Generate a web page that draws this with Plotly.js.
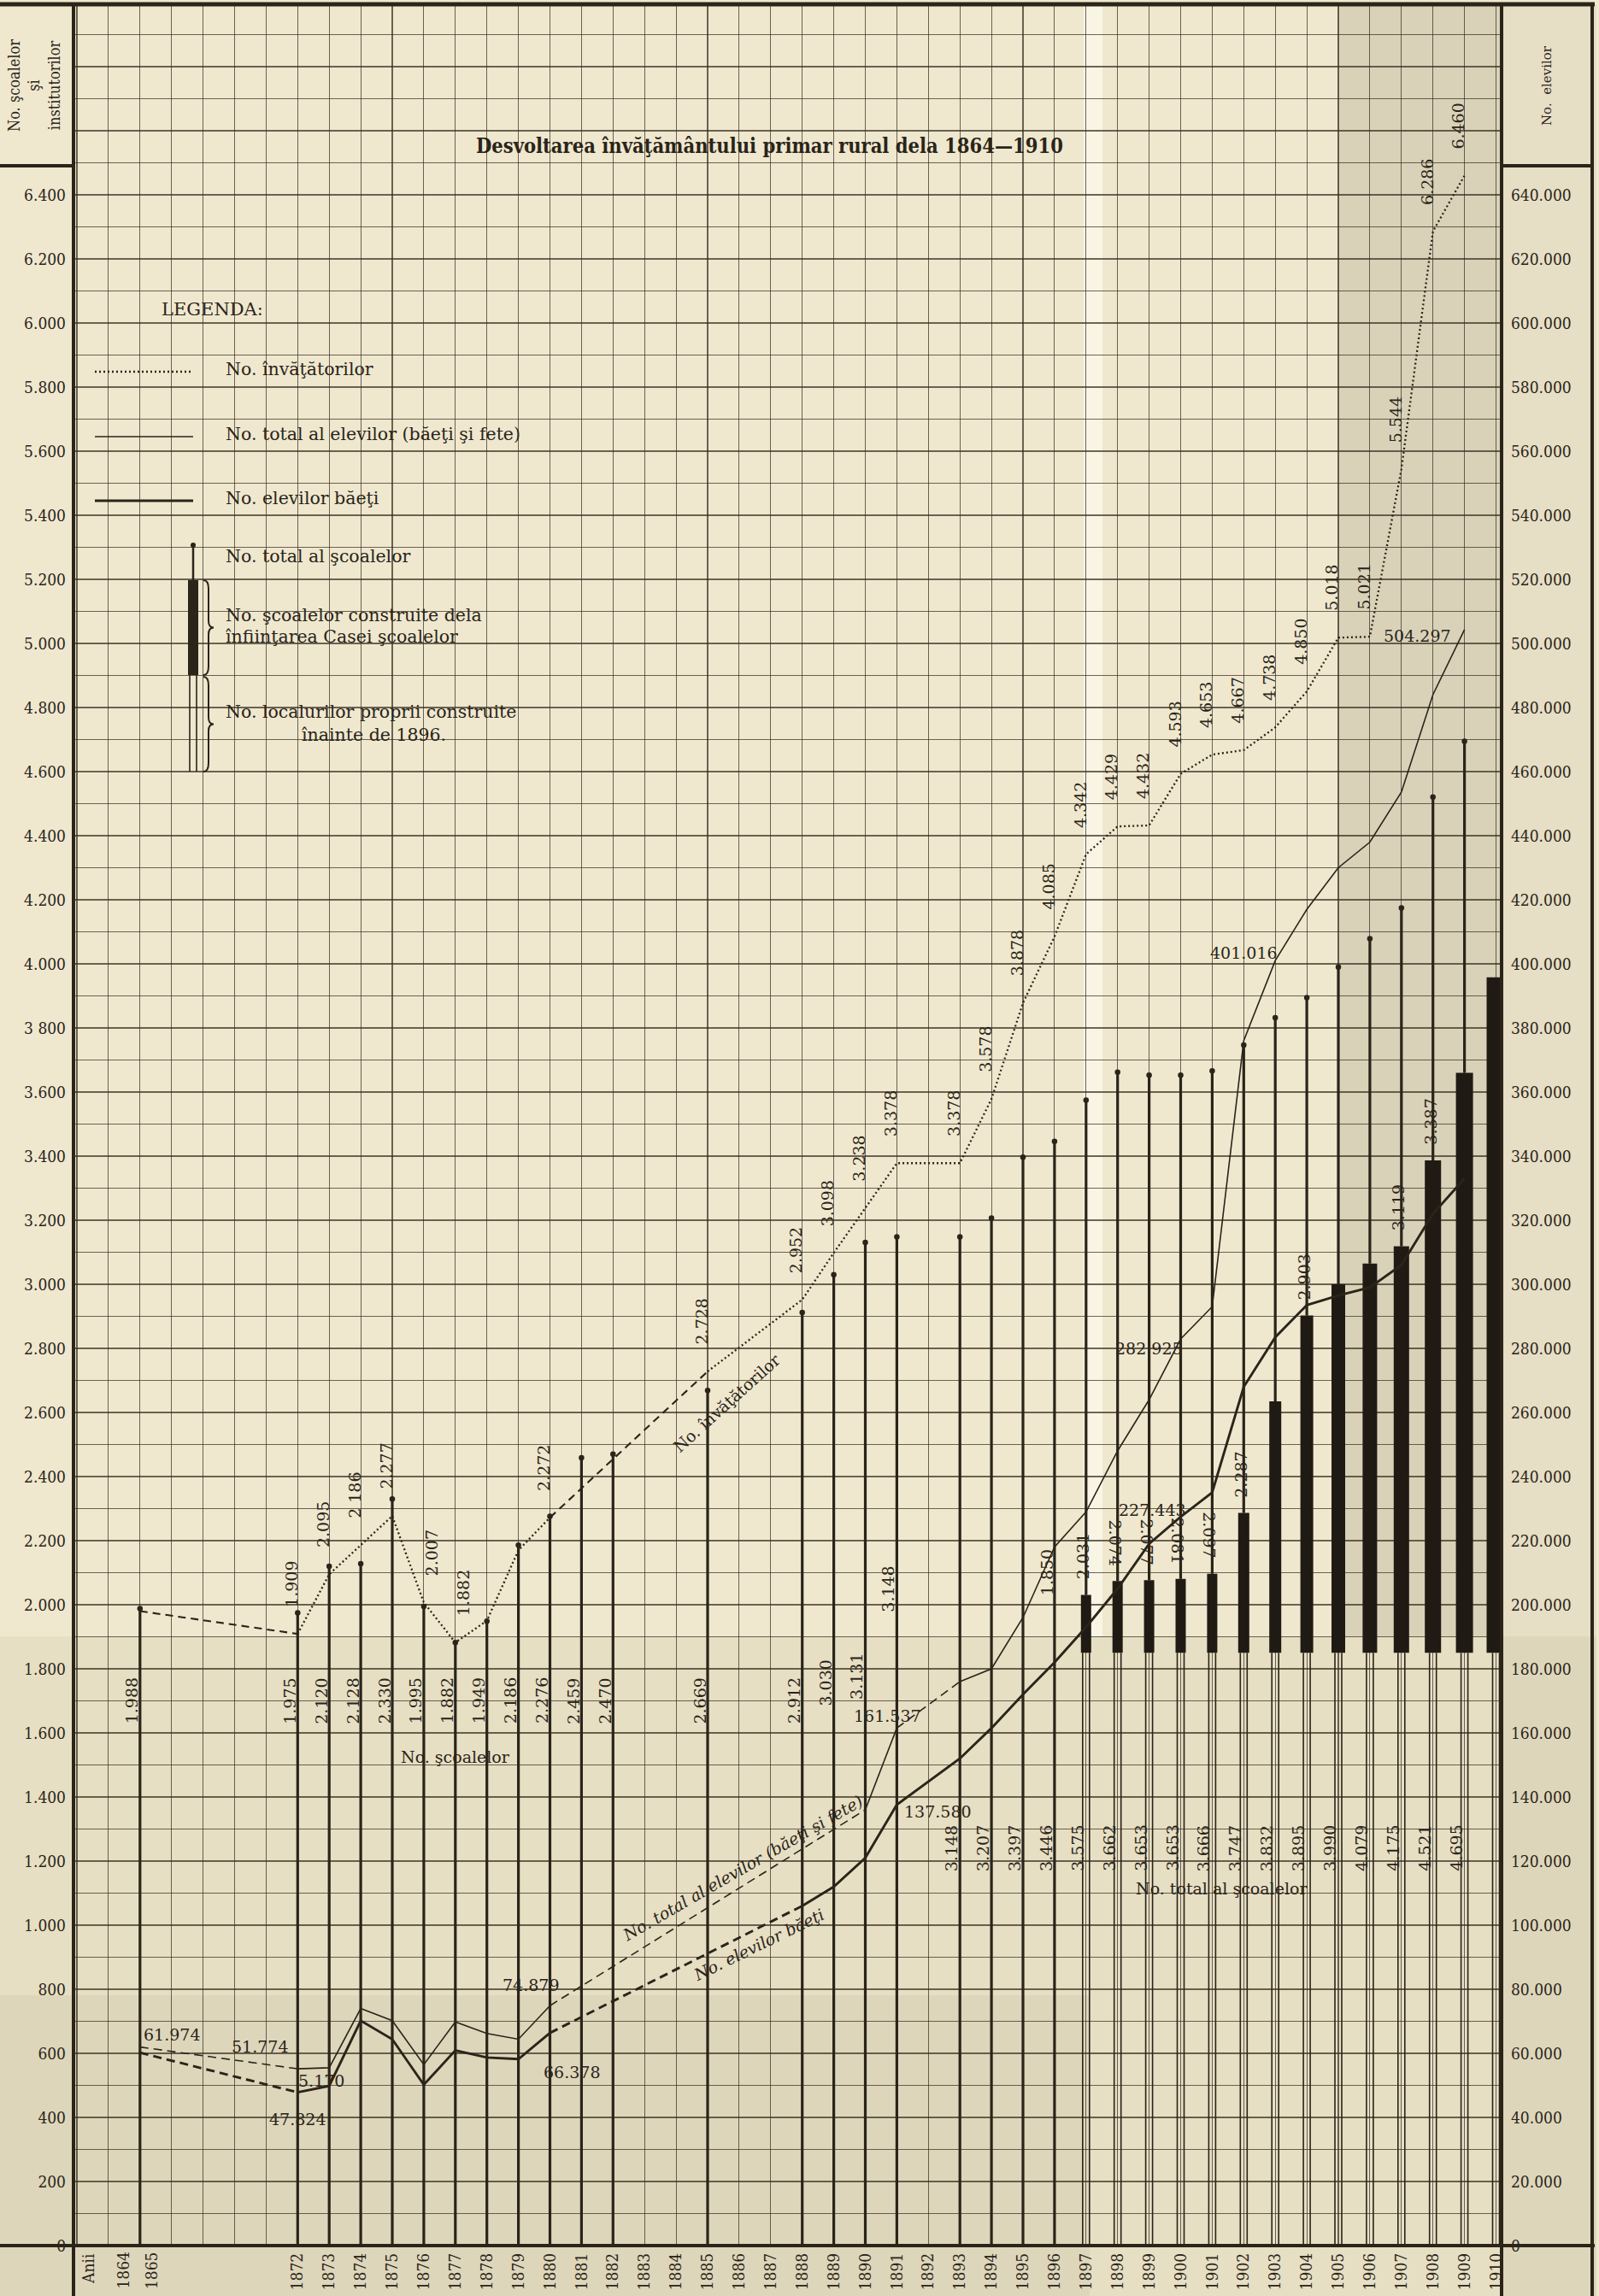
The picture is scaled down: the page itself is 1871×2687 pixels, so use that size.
<!DOCTYPE html>
<html><head><meta charset="utf-8">
<script src="https://cdn.plot.ly/plotly-3.0.1.min.js"></script>
<style>html,body{margin:0;padding:0;background:#efe8cf}#chart{width:1871px;height:2687px}</style>
</head><body><div id="chart"></div>
<script>
// ---------------- DATA ----------------
const yearTicks = [1872,1873,1874,1875,1876,1877,1878,1879,1880,1881,1882,1883,1884,1885,1886,1887,1888,1889,1890,1891,1892,1893,1894,1895,1896,1897,1898,1899,1900,1901,1902,1903,1904,1905,1906,1907,1908,1909,1910];

// No. total al şcoalelor
const schoolYears  = [1864,1872,1873,1874,1875,1876,1877,1878,1879,1880,1881,1882,1885,1888,1889,1890,1891,1893,1894,1895,1896,1897,1898,1899,1900,1901,1902,1903,1904,1905,1906,1907,1908,1909];
const schoolTotals = [1988,1975,2120,2128,2330,1995,1882,1949,2186,2276,2459,2470,2669,2912,3030,3131,3148,3148,3207,3397,3446,3575,3662,3653,3653,3666,3747,3832,3895,3990,4079,4175,4521,4695];

// No. localurilor proprii construite înainte de 1896 (base) + şcoale construite de Casa şcoalelor
const buildingsBefore1896 = 1850;
const casaYears = [1897,1898,1899,1900,1901,1902,1903,1904,1905,1906,1907,1908,1909,1910];
const casaOwn   = [2031,2074,2077,2081,2097,2287,2635,2903,3000,3065,3119,3387,3660,3958];
const casaLabelText = ['2.031','2.074','2.077','2.081','2.097','2.287','','2.903','','','3.119','3.387','',''];

// No. învăţătorilor
const teacherYears = [1864,1872,1873,1874,1875,1876,1877,1878,1879,1880,1885,1888,1889,1890,1891,1893,1894,1895,1896,1897,1898,1899,1900,1901,1902,1903,1904,1905,1906,1907,1908,1909];
const teachers     = [1980,1909,2095,2186,2277,2007,1882,1950,2170,2272,2728,2952,3098,3238,3378,3378,3578,3878,4085,4342,4429,4432,4593,4653,4667,4738,4850,5018,5021,5544,6286,6460];
const teacherLabelText = ['','1.909','2.095','2 186','2.277','2.007','1.882','','','2.272','2.728','2.952','3.098','3.238','3.378','3.378','3.578','3.878','4.085','4.342','4.429','4.432','4.593','4.653','4.667','4.738','4.850','5.018','5.021','5.544','6.286','6.460'];

// No. total al elevilor (băeţi şi fete)
const totalYears    = [1864,1872,1873,1874,1875,1876,1877,1878,1879,1880,1890,1891,1893,1894,1895,1896,1897,1898,1899,1900,1901,1902,1903,1904,1905,1906,1907,1908,1909];
const studentsTotal = [61974,55170,55500,74000,70200,56500,69800,66200,64400,74879,136000,161537,176000,180000,196000,218000,229000,248000,264000,282925,293000,376000,401016,417000,430000,438000,453600,484000,504297];

// No. elevilor băeţi
const boysYears    = [1864,1872,1873,1874,1875,1876,1877,1878,1879,1880,1888,1889,1890,1891,1893,1894,1895,1896,1897,1898,1899,1900,1901,1902,1903,1904,1905,1906,1907,1908,1909];
const studentsBoys = [60200,47824,49800,70200,64400,50200,60900,58700,58200,66378,106000,112000,121000,137580,152000,161500,172000,182000,193000,205000,219000,227443,235000,268000,283500,293500,296500,299000,306000,322000,333000];

// segments drawn dashed (gaps in the record)
const teacherDashed = [[1864,1872],[1880,1885]];
const totalDashed   = [[1864,1872],[1880,1890],[1891,1893]];
const boysDashed    = [[1864,1872],[1880,1888]];

// ---------------- STYLE / GEOMETRY ----------------
const FONT = 'DejaVu Serif, serif';
const FONTC = 'DejaVu Serif Condensed, DejaVu Serif, serif';
const INK = '#2a2419', PAPER = '#efe8cf';
const W = 1871, H = 2687, L = 86, R = 1757, T = 6, B = 2628;
const X0 = 90, colW = 36.9, unitPx = 0.375;
const XMIN = (L - X0) / colW, XMAX = (R - X0) / colW, YMAX = (B - T) / unitPx;
const casaBarPx = [12,12,12,12,12,13,14,15,16,17,18,19,20,22];
const col = y => (y === 1864 ? 2 : y - 1865);   // broken year axis: 1866-1871 omitted
const pxp = px => (px - L) / (R - L);
const pyp = py => (B - py) / (B - T);
const cpx = c => X0 + c * colW;
const fmt = v => v >= 1000 ? Math.floor(v / 1000) + '.' + String(v % 1000).padStart(3, '0') : String(v);

function pieces(years, vals, dashedPairs) {
  const out = {solid: {x: [], y: []}, dashed: {x: [], y: []}};
  const last = {solid: null, dashed: null};
  for (let i = 0; i < years.length - 1; i++) {
    const d = dashedPairs.some(p => p[0] === years[i] && p[1] === years[i + 1]) ? 'dashed' : 'solid';
    const t = out[d];
    if (last[d] !== i) { if (t.x.length) { t.x.push(null); t.y.push(null); } t.x.push(col(years[i])); t.y.push(vals[i]); }
    t.x.push(col(years[i + 1])); t.y.push(vals[i + 1]);
    last[d] = i + 1;
  }
  return out;
}

const traces = [];
(function () {
  const x = [], y = [];
  schoolYears.forEach((yr, i) => {
    const ci = casaYears.indexOf(yr);
    const from = ci >= 0 ? casaOwn[ci] : 0;
    x.push(col(yr), col(yr), null); y.push(from, schoolTotals[i], null);
  });
  traces.push({type: 'scatter', mode: 'lines', x, y, line: {color: INK, width: 3.2}, hoverinfo: 'skip'});
  traces.push({type: 'scatter', mode: 'markers', x: schoolYears.map(col), y: schoolTotals, marker: {color: INK, size: 6.5}, hoverinfo: 'skip'});
  const dx = [], dy = [];
  casaYears.forEach(yr => { [-4, 4].forEach(o => { dx.push(col(yr) + o / colW, col(yr) + o / colW, null); dy.push(0, buildingsBefore1896, null); }); });
  traces.push({type: 'scatter', mode: 'lines', x: dx, y: dy, line: {color: INK, width: 1.6}, hoverinfo: 'skip'});
})();
traces.push({type: 'bar', x: casaYears.map(col), y: casaOwn.map(v => v - buildingsBefore1896), base: buildingsBefore1896,
  width: casaBarPx.map(w => w / colW), marker: {color: '#1f1b14', line: {width: 0}}, hoverinfo: 'skip'});
(function () {
  const p = pieces(teacherYears, teachers, teacherDashed);
  traces.push({type: 'scatter', mode: 'lines', x: p.solid.x, y: p.solid.y, line: {color: INK, width: 2.3, dash: '2px,3px'}, hoverinfo: 'skip'});
  traces.push({type: 'scatter', mode: 'lines', x: p.dashed.x, y: p.dashed.y, line: {color: INK, width: 2.1, dash: '9px,6px'}, hoverinfo: 'skip'});
})();
[[totalYears, studentsTotal, totalDashed, 1.6], [boysYears, studentsBoys, boysDashed, 2.9]].forEach(([ys, vs, dp, w]) => {
  const p = pieces(ys, vs, dp);
  traces.push({type: 'scatter', mode: 'lines', x: p.solid.x, y: p.solid.y, yaxis: 'y2', line: {color: INK, width: w}, hoverinfo: 'skip'});
  traces.push({type: 'scatter', mode: 'lines', x: p.dashed.x, y: p.dashed.y, yaxis: 'y2', line: {color: INK, width: w, dash: '10px,6px'}, hoverinfo: 'skip'});
});

// ---------------- SHAPES ----------------
const shapes = [];
const sline = (x0, y0, x1, y1, w, dash, layer) => shapes.push({type: 'line', xref: 'paper', yref: 'paper', x0: pxp(x0), y0: pyp(y0), x1: pxp(x1), y1: pyp(y1), line: {color: INK, width: w, dash: dash || 'solid'}, layer: layer || 'above'});
const srect = (x0, y0, x1, y1, fill, layer) => shapes.push({type: 'rect', xref: 'paper', yref: 'paper', x0: pxp(x0), y0: pyp(y0), x1: pxp(x1), y1: pyp(y1), fillcolor: fill, line: {width: 0}, layer: layer || 'below'});
srect(1565, 5, R, 1915, 'rgba(110,100,80,0.17)');
srect(0, 1915, 1868, 2687, 'rgba(150,130,90,0.09)');
srect(0, 2335, 1275, 2687, 'rgba(120,100,70,0.07)');
srect(1268, 5, 1290, 1915, 'rgba(255,255,248,0.55)');
srect(R, 5, 1868, 2687, 'rgba(130,120,95,0.08)');
sline(0, 5, 1866, 5, 5);
sline(L, 3, L, 2687, 4);
sline(0, B, 1866, B, 4);
sline(R, 3, R, 2687, 4);
sline(1863, 3, 1863, 2687, 4);
sline(0, 194, L, 194, 4);
sline(R, 194, 1863, 194, 4);
// legend samples
sline(111, 435, 226, 435, 2.3, '2px,3px');
sline(111, 511, 226, 511, 1.6);
sline(111, 586, 226, 586, 3);
sline(226, 640, 226, 679, 2.5);
shapes.push({type: 'circle', xref: 'paper', yref: 'paper', x0: pxp(223), x1: pxp(229), y0: pyp(635), y1: pyp(641), fillcolor: INK, line: {width: 0}, layer: 'above'});
srect(220, 679, 232, 790, INK, 'above');
sline(222, 790, 222, 903, 1.6); sline(230, 790, 230, 903, 1.6);
function brace(bx, y0, y1) {
  const ym = (y0 + y1) / 2, P = (a, b) => pxp(a).toFixed(5) + ',' + pyp(b).toFixed(5);
  const path = 'M' + P(bx, y0) + ' Q' + P(bx + 6, y0) + ' ' + P(bx + 6, y0 + 10) + ' L' + P(bx + 6, ym - 8) +
    ' Q' + P(bx + 6, ym) + ' ' + P(bx + 12, ym) + ' Q' + P(bx + 6, ym) + ' ' + P(bx + 6, ym + 8) +
    ' L' + P(bx + 6, y1 - 10) + ' Q' + P(bx + 6, y1) + ' ' + P(bx, y1);
  shapes.push({type: 'path', xref: 'paper', yref: 'paper', path, line: {color: INK, width: 2}, layer: 'above'});
}
brace(238, 679, 790); brace(238, 792, 903);

// ---------------- ANNOTATIONS ----------------
const ann = [];
const A = (text, x, y, o) => ann.push(Object.assign({text, x, y, xref: 'x', yref: 'y', showarrow: false, xanchor: 'center', yanchor: 'middle',
  font: {family: FONT, size: 19, color: INK}}, o || {}));
const AP = (text, px, py, o) => A(text, pxp(px), pyp(py), Object.assign({xref: 'paper', yref: 'paper'}, o || {}));
const f = (s, fam) => ({family: fam || FONT, size: s, color: INK});

AP('<b>Desvoltarea învăţământului primar rural dela 1864—1910</b>', 900, 171, {font: f(23.5, FONTC)});
AP('No. şcoalelor<br>şi<br>institutorilor', 40, 100, {textangle: -90, font: f(18, FONTC)});
AP('No.  elevilor', 1810, 100, {textangle: -90, font: f(15)});
AP('Anii', cpx(0.35), 2655, {textangle: -90, font: f(19, FONTC)});
AP('1864', cpx(1.45), 2657, {textangle: -90, font: f(19, FONTC)});
AP('1865', cpx(2.36), 2657, {textangle: -90, font: f(19, FONTC)});

AP('LEGENDA:', 248, 362, {font: f(21)});
const lg = {xanchor: 'left', font: f(20.5)};
AP('No. învăţătorilor', 262, 432, lg);
AP('No. total al elevilor (băeţi şi fete)', 262, 508, lg);
AP('No. elevilor băeţi', 262, 583, lg);
AP('No. total al şcoalelor', 262, 651, lg);
AP('No. şcoalelor construite dela', 262, 720, lg);
AP('înfiinţarea Casei şcoalelor', 262, 745, lg);
AP('No. localurilor proprii construite', 262, 833, lg);
AP('înainte de 1896.', 351, 860, lg);

schoolYears.forEach((yr, i) => {
  const yv = yr <= 1888 ? 1700 : yr === 1889 ? 1755 : yr === 1890 ? 1775 : yr === 1891 ? 2050 : 1240;
  A(fmt(schoolTotals[i]), col(yr) - 0.27, yv, {textangle: -90});
});
casaYears.forEach((yr, i) => {
  if (!casaLabelText[i]) return;
  const flip = [1898, 1899, 1900, 1901].includes(yr);
  A(casaLabelText[i], col(yr) - 0.08, casaOwn[i] + 120, {textangle: flip ? 90 : -90});
});
teacherYears.forEach((yr, i) => {
  if (!teacherLabelText[i]) return;
  const dx = (yr === 1876 || yr === 1877) ? 0.25 : -0.2;
  A(teacherLabelText[i], col(yr) + dx, teachers[i] + 155, {textangle: -90});
});
const S = (text, c, v, o) => A(text, c, v / 100, o);
S('61.974', 3.0, 66000); S('51.774', 5.8, 62200); S('5.170', 7.75, 51600); S('47.824', 7.0, 39600);
S('74.879', 14.4, 81300); S('66.378', 15.7, 54200);
S('161.537', 25.7, 165300); S('137.580', 27.3, 135500);
S('282.925', 34.0, 280000); S('227.443', 34.1, 229700);
S('401.016', 37.0, 403600); S('504.297', 42.5, 502400);
A('1.850', 30.75, 2100, {textangle: -90});
A('No. învăţătorilor', 20.6, 2630, {textangle: -42});
A('No. şcoalelor', 12.0, 1525);
A('<i>No. total al elevilor (băeţi şi fete)</i>', 21.1, 1180, {textangle: -30});
A('<i>No. elevilor băeţi</i>', 21.6, 940, {textangle: -26});
A('No. total al şcoalelor', 36.3, 1115);

// ---------------- AXES ----------------
const xTickVals = [], xTickText = [];
for (let c = 0; c <= 45; c++) { xTickVals.push(c); const yi = yearTicks.findIndex(y => col(y) === c); xTickText.push(yi >= 0 ? String(yearTicks[yi]) : ''); }
const yTickVals = [], yTickText = [];
for (let v = 0; v <= 6900; v += 100) { yTickVals.push(v); yTickText.push(v % 200 === 0 && v <= 6400 ? (v === 3800 ? '3 800' : fmt(v)) : ''); }
const y2Vals = [], y2Text = [];
for (let v = 0; v <= 640000; v += 20000) { y2Vals.push(v); y2Text.push(fmt(v)); }
const GRID = 'rgba(55,45,30,0.72)';

const layout = {
  width: W, height: H, autosize: false, showlegend: false, barmode: 'overlay',
  paper_bgcolor: PAPER, plot_bgcolor: 'rgba(0,0,0,0)',
  margin: {l: L, r: W - R, t: T, b: H - B, pad: 0},
  font: {family: FONT, color: INK},
  xaxis: {range: [XMIN, XMAX], tickmode: 'array', tickvals: xTickVals, ticktext: xTickText, tickangle: -90, ticks: '',
    showgrid: true, gridcolor: GRID, gridwidth: 1.1, zeroline: false, showline: false, automargin: false,
    tickfont: f(19, FONTC), ticklabelstandoff: 4, fixedrange: true},
  yaxis: {range: [0, YMAX], tickmode: 'array', tickvals: yTickVals, ticktext: yTickText, ticks: '',
    showgrid: true, gridcolor: GRID, gridwidth: 1.1, zeroline: false, showline: false, automargin: false,
    tickfont: f(19, FONTC), ticklabelstandoff: 8, fixedrange: true},
  yaxis2: {overlaying: 'y', side: 'right', range: [0, YMAX * 100], tickmode: 'array', tickvals: y2Vals, ticktext: y2Text,
    ticks: '', showgrid: false, zeroline: false, showline: false, automargin: false,
    tickfont: f(19, FONTC), ticklabelstandoff: 10, fixedrange: true},
  shapes, annotations: ann
};
Plotly.newPlot('chart', traces, layout, {displayModeBar: false, staticPlot: true});
</script>
</body></html>
